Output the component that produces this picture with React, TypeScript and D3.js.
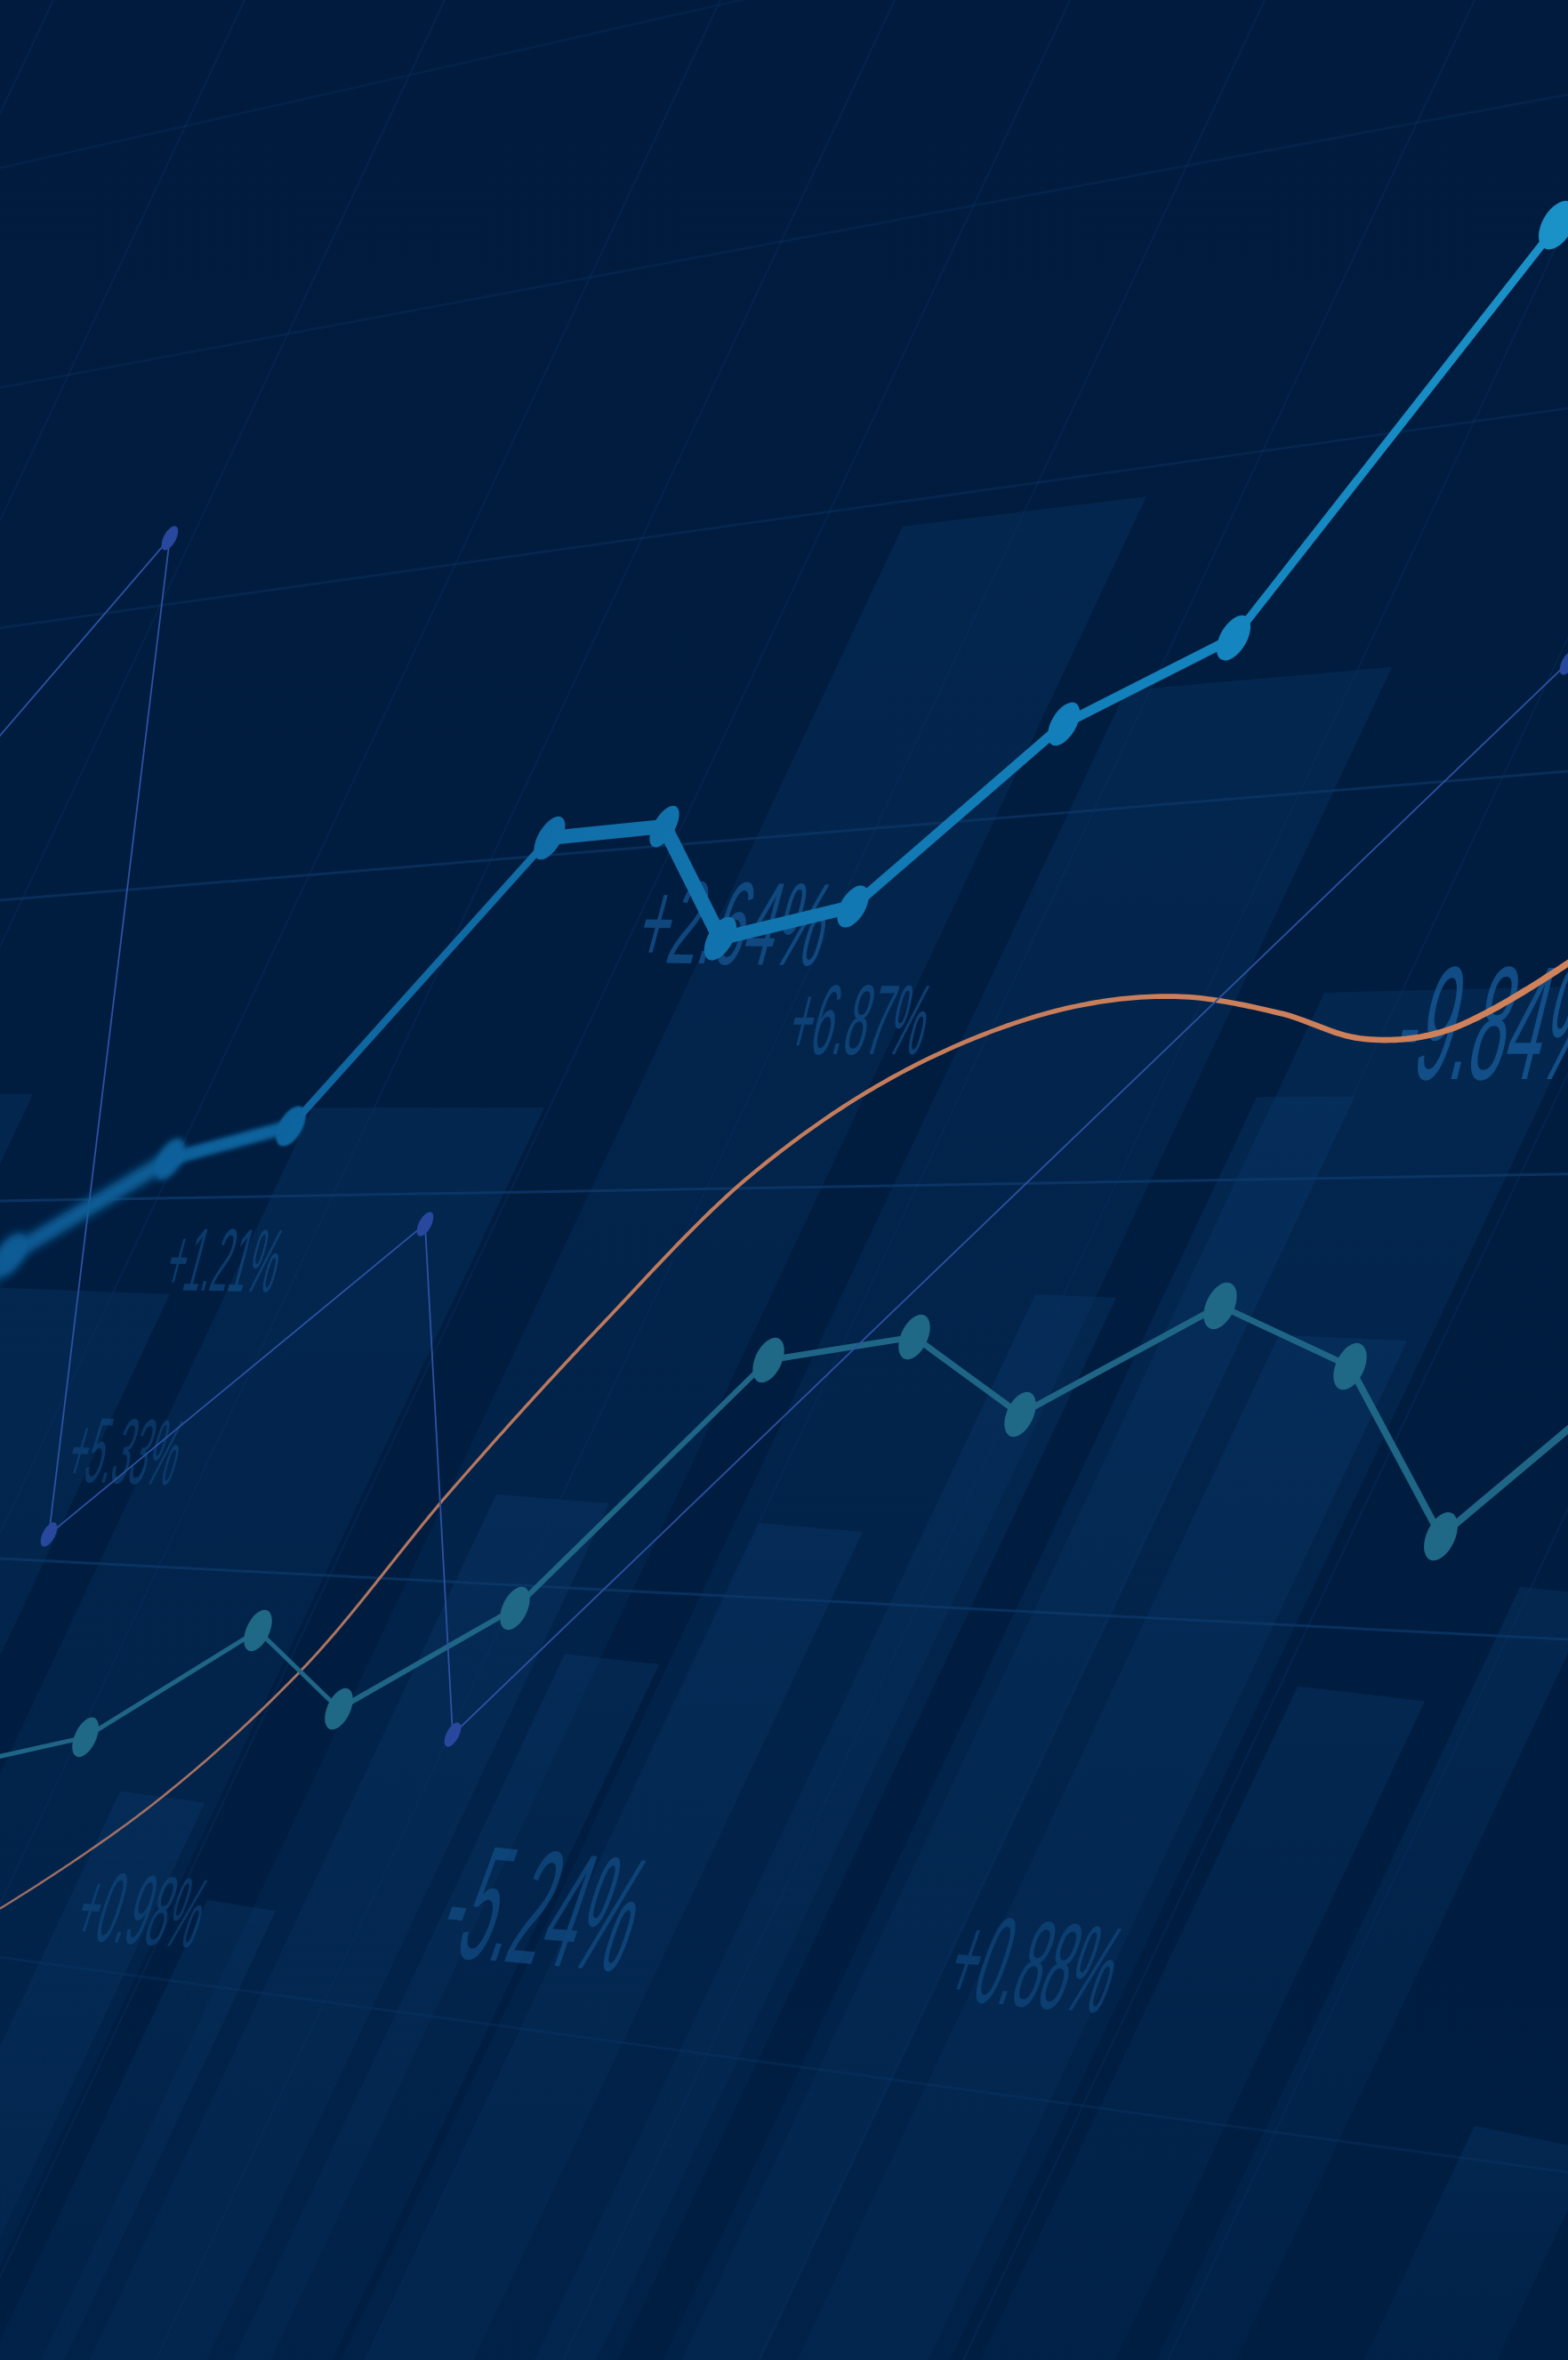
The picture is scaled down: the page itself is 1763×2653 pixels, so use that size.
import React, { useEffect, useRef } from "react";
import * as d3 from "d3";

const WIDTH = 1763;
const HEIGHT = 2653;

// ---------- data (x: time axis 0–100, y: value axis 0–100) ----------
// bright blue main series
const mainX = [-1.7, 0.68, 10.83, 18.55, 35.05, 42.37, 45.94, 54.4, 67.84, 78.67, 99.32, 102.1];
const mainY = [45.16, 46.85, 50.89, 52.28, 64.49, 64.98, 60.23, 61.59, 69.32, 72.97, 90.46, 92.84];

// teal series
const tealX = [-1.13, 5.45, 16.45, 21.61, 32.84, 49.01, 58.31, 65.06, 77.82, 86.1, 91.89, 102.1];
const tealY = [25.41, 26.39, 30.91, 27.59, 31.85, 42.37, 43.35, 40.07, 44.67, 42.1, 34.9, 40.6];

// thin indigo series
const thinX = [-1.13, 10.83, 3.12, 27.11, 28.87, 100];
const thinY = [67.96, 77.2, 34.98, 48.13, 26.5, 71.92];

// smooth orange trend
const trendX = [-1.5, 0, 9.6, 19.19, 28.79, 38.39, 47.98, 57.58, 67.18, 74.86, 81.57, 86.85, 92.13, 100, 102];
const trendY = [18.6, 19.13, 23.47, 29.21, 36.86, 43.88, 50.26, 54.59, 57.14, 57.78, 57.08, 55.99, 56.31, 59.18, 60.2];

// background columns (left / right at top, top value)
const barLeft = [57.57, 71.81, 84.46, 80.15, 19.97, -3.86, -3.4, 66.02, 81.57, 31.65, 48.44, 36.02, 96.94, 82.76, 7.66, 13.22, 94.04];
const barRight = [73.11, 88.77, 101.76, 86.39, 34.71, 2.1, 10.83, 71.19, 89.73, 38.85, 55.02, 42.03, 101.76, 90.87, 13.05, 17.58, 101.76];
const barTop = [78.33, 71.24, 58.08, 53.52, 53.07, 53.64, 45.34, 45.08, 43.31, 36.49, 35.28, 29.7, 32.6, 28.23, 23.86, 19.26, 9.39];

// percentage labels
const labels = ["+2.64%", "+6.87%", "-9.84%", "+1.21%", "+5.33%", "+0.98%", "-5.24%", "+0.88%"];
const labelX = [40.3, 50.0, 88.5, 10.3, 4.0, 4.5, 27.6, 60.0];
const labelY = [59.22, 55.33, 54.28, 45.34, 37.24, 17.83, 17.15, 15.3];

// perspective grid: rows (value at left / right edge), columns (time at top)
const rowLeft = [92.88, 83.57, 73.39, 61.85, 49.11, 33.96, 17.07];
const rowRight = [107.95, 96.0, 82.7, 67.32, 50.25, 30.53, 7.95];
const colTop = [3.4, 15.6, 28.36, 45.94, 57.06, 68.24, 80.66, 94.04, 106.64, 119.11, 132.16, 145.21];

// ---------- styles ----------
const SLANT = 0.47;
const mainSegW = [18, 18, 15, 8, 16, 17, 15, 11, 11, 9, 9];
const mainSegBlur = [6, 5, 2.5, 0, 0, 0, 0, 0, 0, 0, 0];
const mainRx = [0, 14, 13, 13, 13, 12, 14, 14, 14, 15, 17, 0];
const mainRy = [0, 27, 26, 25, 27, 26, 27, 26, 27, 28, 30, 0];
const mainDotBlur = [0, 5, 3, 1.2, 0, 0, 0, 0, 0, 0, 0, 0];
const tealSegW = [5, 5, 5, 6, 6, 7, 7, 7, 7, 8, 8];
const tealRx = [0, 12, 13, 13, 14, 15, 15, 15, 16, 16, 16, 0];
const tealRy = [0, 24, 25, 25, 26, 27, 27, 27, 28, 28, 29, 0];
const rowOpacity = [0.22, 0.28, 0.35, 0.6, 0.8, 0.7, 0.3];
const labelCap = [95, 80, 130, 72, 75, 80, 132, 100];
const labelScale = [0.46, 0.4, 0.4, 0.36, 0.34, 0.36, 0.36, 0.38];
const labelRot = [1, 0, 0, 1, 2, 4, 5, 5];
const labelOpacity = [0.75, 0.62, 0.85, 0.55, 0.45, 0.45, 0.6, 0.5];

export default function App() {
  const ref = useRef<SVGSVGElement>(null);

  useEffect(() => {
    document.body.style.margin = "0";
    document.body.style.overflow = "hidden";
    const svg = d3.select(ref.current);
    svg.selectAll("*").remove();

    const x = d3.scaleLinear().domain([0, 100]).range([0, WIDTH]);
    const y = d3.scaleLinear().domain([0, 100]).range([HEIGHT, 0]);

    const defs = svg.append("defs");
    const bg = defs.append("linearGradient").attr("id", "bg").attr("x1", 0).attr("y1", 0).attr("x2", 0).attr("y2", 1);
    bg.append("stop").attr("offset", 0).attr("stop-color", "#001b3d");
    bg.append("stop").attr("offset", 1).attr("stop-color", "#001e42");

    const barG = defs.append("linearGradient").attr("id", "barG").attr("x1", 0).attr("y1", 0).attr("x2", 0).attr("y2", 1);
    barG.append("stop").attr("offset", 0).attr("stop-color", "#0b3f74").attr("stop-opacity", 0.3);
    barG.append("stop").attr("offset", 0.5).attr("stop-color", "#0b3f74").attr("stop-opacity", 0.18);
    barG.append("stop").attr("offset", 1).attr("stop-color", "#0b3f74").attr("stop-opacity", 0.12);

    const mainG = defs.append("linearGradient").attr("id", "mainG").attr("gradientUnits", "userSpaceOnUse")
      .attr("x1", 0).attr("y1", 0).attr("x2", WIDTH).attr("y2", 0);
    mainG.append("stop").attr("offset", 0).attr("stop-color", "#0c5b95");
    mainG.append("stop").attr("offset", 0.4).attr("stop-color", "#1170aa");
    mainG.append("stop").attr("offset", 0.7).attr("stop-color", "#1280bb");
    mainG.append("stop").attr("offset", 1).attr("stop-color", "#1a92c8");

    const trG = defs.append("linearGradient").attr("id", "trG").attr("gradientUnits", "userSpaceOnUse")
      .attr("x1", 0).attr("y1", 0).attr("x2", WIDTH).attr("y2", 0);
    trG.append("stop").attr("offset", 0).attr("stop-color", "#9a6d66");
    trG.append("stop").attr("offset", 0.4).attr("stop-color", "#c07a5c");
    trG.append("stop").attr("offset", 1).attr("stop-color", "#d2825a");

    const blurIds = new Map<number, string>();
    const blur = (s: number) => {
      if (!s) return null;
      if (blurIds.has(s)) return `url(#${blurIds.get(s)})`;
      const id = "blur" + String(s).replace(".", "_");
      defs.append("filter").attr("id", id).attr("filterUnits", "userSpaceOnUse")
        .attr("x", -300).attr("y", -300).attr("width", WIDTH + 600).attr("height", HEIGHT + 600)
        .append("feGaussianBlur").attr("stdDeviation", s);
      blurIds.set(s, id);
      return `url(#${id})`;
    };

    svg.append("rect").attr("width", WIDTH).attr("height", HEIGHT).attr("fill", "url(#bg)");

    // ---- columns ----
    const gBars = svg.append("g");
    barTop.forEach((t, i) => {
      const xl = x(barLeft[i]);
      const xr = x(barRight[i]);
      const yt = y(t);
      const xc = (xl + xr) / 2;
      const tilt = (yt - 1250) * 0.00018;
      const yl = yt + tilt * (xl - xc);
      const yr = yt + tilt * (xr - xc);
      const pts: [number, number][] = [
        [xl, yl],
        [xr, yr],
        [xr - SLANT * (HEIGHT - yr), HEIGHT],
        [xl - SLANT * (HEIGHT - yl), HEIGHT],
      ];
      gBars.append("path").attr("d", d3.line()(pts) + "Z").attr("fill", "url(#barG)");
    });

    // ---- grid ----
    const gGrid = svg.append("g").attr("fill", "none");
    colTop.forEach((c) => {
      const x0 = x(c);
      gGrid.append("line").attr("x1", x0).attr("y1", 0).attr("x2", x0 - SLANT * HEIGHT).attr("y2", HEIGHT)
        .attr("stroke", "#0a3060").attr("stroke-width", 2).attr("opacity", 0.42);
    });
    rowLeft.forEach((l, i) => {
      gGrid.append("line").attr("x1", x(0)).attr("y1", y(l)).attr("x2", x(100)).attr("y2", y(rowRight[i]))
        .attr("stroke", "#0d3a6c").attr("stroke-width", 3).attr("opacity", rowOpacity[i]);
    });

    // ---- labels ----
    const gLab = svg.append("g");
    labels.forEach((t, i) => {
      gLab.append("text")
        .attr("transform", `translate(${x(labelX[i])},${y(labelY[i])}) rotate(${labelRot[i]}) skewX(-14) scale(${labelScale[i]},1)`)
        .attr("font-family", "'Liberation Sans', Arial, sans-serif")
        .attr("font-size", labelCap[i] / 0.716)
        .attr("fill", "#155591")
        .attr("opacity", labelOpacity[i])
        .text(t);
    });

    // ---- orange trend (variable width ribbon) ----
    const trendPts: [number, number][] = trendX.map((v, i) => [x(v), y(trendY[i])]);
    const curve = d3.line().curve(d3.curveCatmullRom.alpha(0.5));
    const tmp = svg.append("path").attr("d", curve(trendPts)).attr("fill", "none");
    const node = tmp.node() as SVGPathElement;
    const L = node.getTotalLength();
    const N = 400;
    const samp = d3.range(N + 1).map((k) => node.getPointAtLength((L * k) / N));
    tmp.remove();
    const leftSide: [number, number][] = [];
    const rightSide: [number, number][] = [];
    samp.forEach((p, k) => {
      const a = samp[Math.max(0, k - 1)];
      const b = samp[Math.min(N, k + 1)];
      const dx = b.x - a.x;
      const dy = b.y - a.y;
      const len = Math.hypot(dx, dy) || 1;
      const nx = -dy / len;
      const ny = dx / len;
      const t = Math.max(0, Math.min(1, p.x / WIDTH));
      const hw = 1.2 + 2.5 * Math.pow(t, 1.4);
      leftSide.push([p.x + nx * hw, p.y + ny * hw]);
      rightSide.push([p.x - nx * hw, p.y - ny * hw]);
    });
    svg.append("path").attr("d", d3.line()(leftSide.concat(rightSide.reverse())) + "Z").attr("fill", "url(#trG)");

    // ---- teal series ----
    const gTeal = svg.append("g");
    for (let i = 0; i < tealX.length - 1; i++) {
      gTeal.append("line")
        .attr("x1", x(tealX[i])).attr("y1", y(tealY[i]))
        .attr("x2", x(tealX[i + 1])).attr("y2", y(tealY[i + 1]))
        .attr("stroke", "#1f6686").attr("stroke-width", tealSegW[i]).attr("stroke-linecap", "round");
    }
    tealX.forEach((v, i) => {
      if (!tealRx[i]) return;
      const cx = x(v), cy = y(tealY[i]);
      gTeal.append("ellipse").attr("cx", cx).attr("cy", cy).attr("rx", tealRx[i]).attr("ry", tealRy[i])
        .attr("transform", `rotate(25,${cx},${cy})`).attr("fill", "#1f6886");
    });

    // ---- thin indigo series ----
    const gThin = svg.append("g");
    gThin.append("path")
      .attr("d", d3.line()(thinX.map((v, i) => [x(v), y(thinY[i])] as [number, number])))
      .attr("fill", "none").attr("stroke", "#2d52a4").attr("stroke-width", 1.8);
    thinX.forEach((v, i) => {
      if (i === 0) return;
      const cx = x(v), cy = y(thinY[i]);
      gThin.append("ellipse").attr("cx", cx).attr("cy", cy).attr("rx", 7).attr("ry", 15)
        .attr("transform", `rotate(28,${cx},${cy})`).attr("fill", "#27489c");
    });

    // ---- main series ----
    const gMain = svg.append("g");
    for (let i = 0; i < mainX.length - 1; i++) {
      const seg = gMain.append("line")
        .attr("x1", x(mainX[i])).attr("y1", y(mainY[i]))
        .attr("x2", x(mainX[i + 1])).attr("y2", y(mainY[i + 1]))
        .attr("stroke", "url(#mainG)").attr("stroke-width", mainSegW[i]).attr("stroke-linecap", "round");
      const f = blur(mainSegBlur[i]);
      if (f) seg.attr("filter", f);
    }
    mainX.forEach((v, i) => {
      if (!mainRx[i]) return;
      const cx = x(v), cy = y(mainY[i]);
      const e = gMain.append("ellipse").attr("cx", cx).attr("cy", cy).attr("rx", mainRx[i]).attr("ry", mainRy[i])
        .attr("transform", `rotate(30,${cx},${cy})`).attr("fill", "url(#mainG)");
      const f = blur(mainDotBlur[i]);
      if (f) e.attr("filter", f);
    });
  }, []);

  return <svg ref={ref} width={WIDTH} height={HEIGHT} style={{ display: "block" }} />;
}
